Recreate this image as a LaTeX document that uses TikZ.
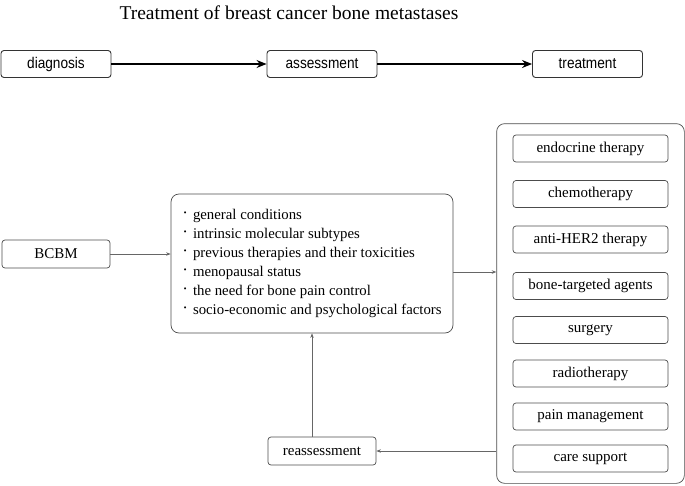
\documentclass[tikz,border=0pt]{standalone}
\usepackage{fontspec}
\setmainfont{Liberation Serif}
\newfontfamily\headfont[FakeStretch=0.88]{Liberation Sans}
\usetikzlibrary{arrows.meta, fit}

\newcommand{\bdot}{\raisebox{1.5pt}{\fontsize{17}{19}\selectfont ·}\hspace{5pt}}

\begin{document}
\begin{tikzpicture}[x=1pt, y=-1pt,
    topbox/.style={draw=black!80, line width=0.9pt, rounded corners=3pt, minimum width=110pt, minimum height=27pt, inner sep=0pt, font=\headfont\fontsize{15.5}{17}\selectfont},
    box/.style={draw=black!70, line width=0.7pt, rounded corners=3pt, minimum width=108pt, minimum height=28pt, inner sep=0pt, font=\fontsize{15}{17}\selectfont},
    tbox/.style={box, minimum width=155pt, minimum height=27pt},
    bigarrow/.style={-{Stealth[length=10pt,width=8pt]}, line width=1.2pt},
    thinarrow/.style={-{Stealth[length=4.5pt,width=3.5pt]}, draw=black!60, line width=0.7pt}]
  \useasboundingbox (0,0) rectangle (685,485);
  \node (title) at (289,13) {\fontsize{19.5}{22}\selectfont Treatment of breast cancer bone metastases};
  % top row
  \node[topbox] (diag) at (56,64) {diagnosis};
  \node[topbox] (assess) at (322,64) {assessment};
  \node[topbox] (treat) at (587.5,64) {treatment};
  \draw[bigarrow] (diag) -- (assess);
  \draw[bigarrow] (assess) -- (treat);
  % factors
  \node[box] (bcbm) at (56,254) {BCBM};
  \node[draw=black!70, line width=0.7pt, rounded corners=8pt, inner sep=4pt, minimum width=282pt, minimum height=139pt, align=left, font=\fontsize{14.8}{19}\selectfont] (factors) at (312,263.5)
    {\bdot general conditions\\
     \bdot intrinsic molecular subtypes\\
     \bdot previous therapies and their toxicities\\
     \bdot menopausal status\\
     \bdot the need for bone pain control\\
     \bdot socio-economic and psychological factors};
  \node[box] (reas) at (322,451) {reassessment};
  % options
  \foreach \y/\name/\txt in {148.5/endo/endocrine therapy, 194/chemo/chemotherapy, 239.5/her/anti-HER2 therapy, 286/bone/bone-targeted agents, 330/surg/surgery, 373.5/radio/radiotherapy, 416.5/pain/pain management, 458.5/care/care support}
    \node[tbox] (\name) at (590.5,\y) {\txt};
  \node[draw=black!70, line width=0.7pt, rounded corners=8pt, inner xsep=16pt, inner ysep=11pt, fit=(endo)(care)] (options) {};
  \coordinate (j) at (0,272);
  \draw[thinarrow] (bcbm.east) -- (bcbm.east -| factors.west);
  \draw[thinarrow] (factors.east |- j) -- (options.west |- j);
  \draw[thinarrow] (options.west |- reas) -- (reas.east);
  \draw[thinarrow] (reas.north -| factors.south) -- (factors.south);
\end{tikzpicture}
\end{document}
